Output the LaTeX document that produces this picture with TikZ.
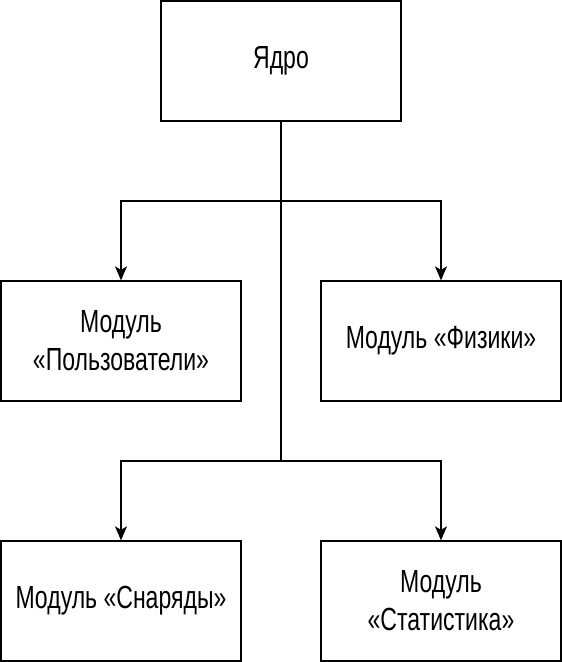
\documentclass[tikz,border=0pt]{standalone}
\usepackage{fontspec}
\setmainfont{Liberation Sans}[FakeStretch=0.72]
\usetikzlibrary{arrows.meta}
\begin{document}
\begin{tikzpicture}[x=1pt,y=-1pt,
  box/.style={draw,line width=1.3pt,minimum width=240pt,minimum height=120pt,align=center,inner sep=0pt,font=\fontsize{32}{38}\selectfont},
  conn/.style={line width=1.3pt},
  arr/.style={conn,-{Stealth[length=14pt,width=12pt,inset=3.5pt]}}]
\useasboundingbox (0,0) rectangle (562,662);
\node[box] (core) at (281,61) {Ядро};
\node[box] (users) at (121,341) {Модуль\\«Пользователи»};
\node[box] (phys) at (441,341) {Модуль «Физики»};
\node[box] (shells) at (121,601) {Модуль «Снаряды»};
\node[box] (stats) at (441,601) {Модуль\\«Статистика»};
\coordinate (j1) at (281,201);
\coordinate (j2) at (281,461);
\draw[conn] (core.south) -- (j2);
\draw[arr] (j1) -| (users.north);
\draw[arr] (j1) -| (phys.north);
\draw[arr] (j2) -| (shells.north);
\draw[arr] (j2) -| (stats.north);
\end{tikzpicture}
\end{document}
